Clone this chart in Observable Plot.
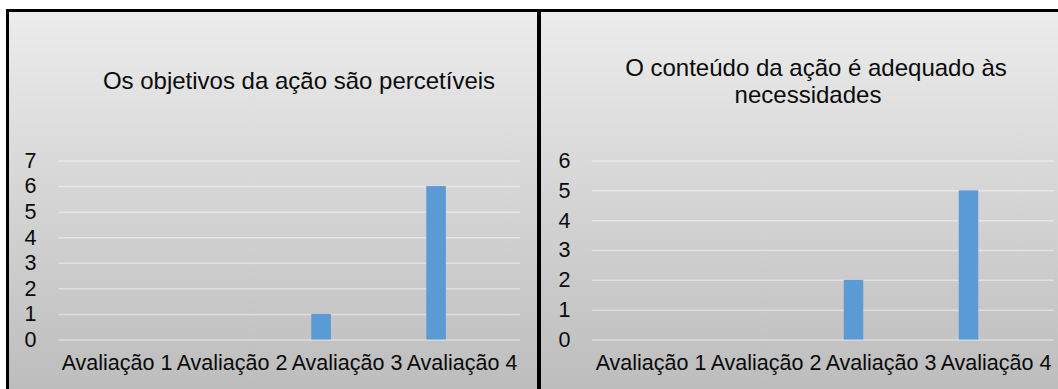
<!DOCTYPE html>
<html>
<head>
<meta charset="utf-8">
<script src="https://cdn.jsdelivr.net/npm/d3@7"></script>
<script src="https://cdn.jsdelivr.net/npm/@observablehq/plot@0.6"></script>
<style>
  html, body { margin: 0; padding: 0; background: #fff; }
  #root { position: relative; width: 1058px; height: 389px; overflow: hidden; font-family: "Liberation Sans", Arial, sans-serif; color: #0a0a0a; }
  .panel { position: absolute; box-sizing: border-box; border-top: 3px solid #000; background: linear-gradient(to bottom, #ececec 0%, #bdbdbd 100%); }
  .panel svg { position: absolute; left: 0; top: 0; }
  .title { position: absolute; font-size: 24px; line-height: 27px; text-align: center; white-space: nowrap; color: #0a0a0a; }
</style>
</head>
<body>
<div id="root">
  <div class="panel" id="p1" style="left:6px; top:9px; width:531px; height:380px; border-left:3px solid #000;"></div>
  <div class="panel" id="p2" style="left:537px; top:9px; width:521px; height:380px; border-left:4px solid #000;"></div>
</div>
<script>
// ---- data ----
const categories = ["Avaliação 1", "Avaliação 2", "Avaliação 3", "Avaliação 4"];
const valuesObjetivos = [0, 0, 1, 6];
const valuesConteudo = [0, 0, 2, 5];
const ticksObjetivos = [0, 1, 2, 3, 4, 5, 6, 7];
const ticksConteudo = [0, 1, 2, 3, 4, 5, 6];
const titleObjetivos = ["Os objetivos da ação são percetíveis"];
const titleConteudo = ["O conteúdo da ação é adequado às", "necessidades"];

function makeChart(values, ticks, opts) {
  const data = categories.map((c, i) => ({cat: c, value: values[i]})).filter(d => d.value > 0);
  return Plot.plot({
    width: opts.width,
    height: 377,
    marginTop: 148.5,
    marginBottom: 49.5,
    marginLeft: opts.marginLeft,
    marginRight: opts.marginRight,
    style: {background: "transparent", fontFamily: "'Liberation Sans', Arial, sans-serif", fontSize: "21.5px", color: "#0a0a0a", overflow: "visible"},
    x: {domain: categories, padding: 0, label: null, tickSize: 0, tickPadding: 15},
    y: {domain: [0, ticks[ticks.length - 1]], ticks: ticks, label: null, tickSize: 0, tickPadding: opts.yPad, tickFormat: d3.format("d")},
    marks: [
      Plot.gridY(ticks, {stroke: "#ffffff", strokeOpacity: 0.42, strokeWidth: 1.5}),
      Plot.barY(data, {x: "cat", y: "value", fill: "#5b9bd5", insetLeft: opts.insetLeft, insetRight: opts.insetRight})
    ]
  });
}

const c1 = makeChart(valuesObjetivos, ticksObjetivos, {width: 528, marginLeft: 49.5, marginRight: 17, yPad: 22.5, insetLeft: 22.3, insetRight: 73.1});
document.getElementById("p1").appendChild(c1);
const c2 = makeChart(valuesConteudo, ticksConteudo, {width: 517, marginLeft: 50.75, marginRight: 4.25, yPad: 21.75, insetLeft: 20.75, insetRight: 74.75});
document.getElementById("p2").appendChild(c2);

function addTitleLine(text, centerX, top) {
  const d = document.createElement("div");
  d.className = "title";
  d.style.left = (centerX - 300) + "px";
  d.style.width = "600px";
  d.style.top = top + "px";
  d.textContent = text;
  document.getElementById("root").appendChild(d);
}
addTitleLine(titleObjetivos[0], 299, 67);
addTitleLine(titleConteudo[0], 816, 54);
addTitleLine(titleConteudo[1], 808, 81);
</script>
</body>
</html>
